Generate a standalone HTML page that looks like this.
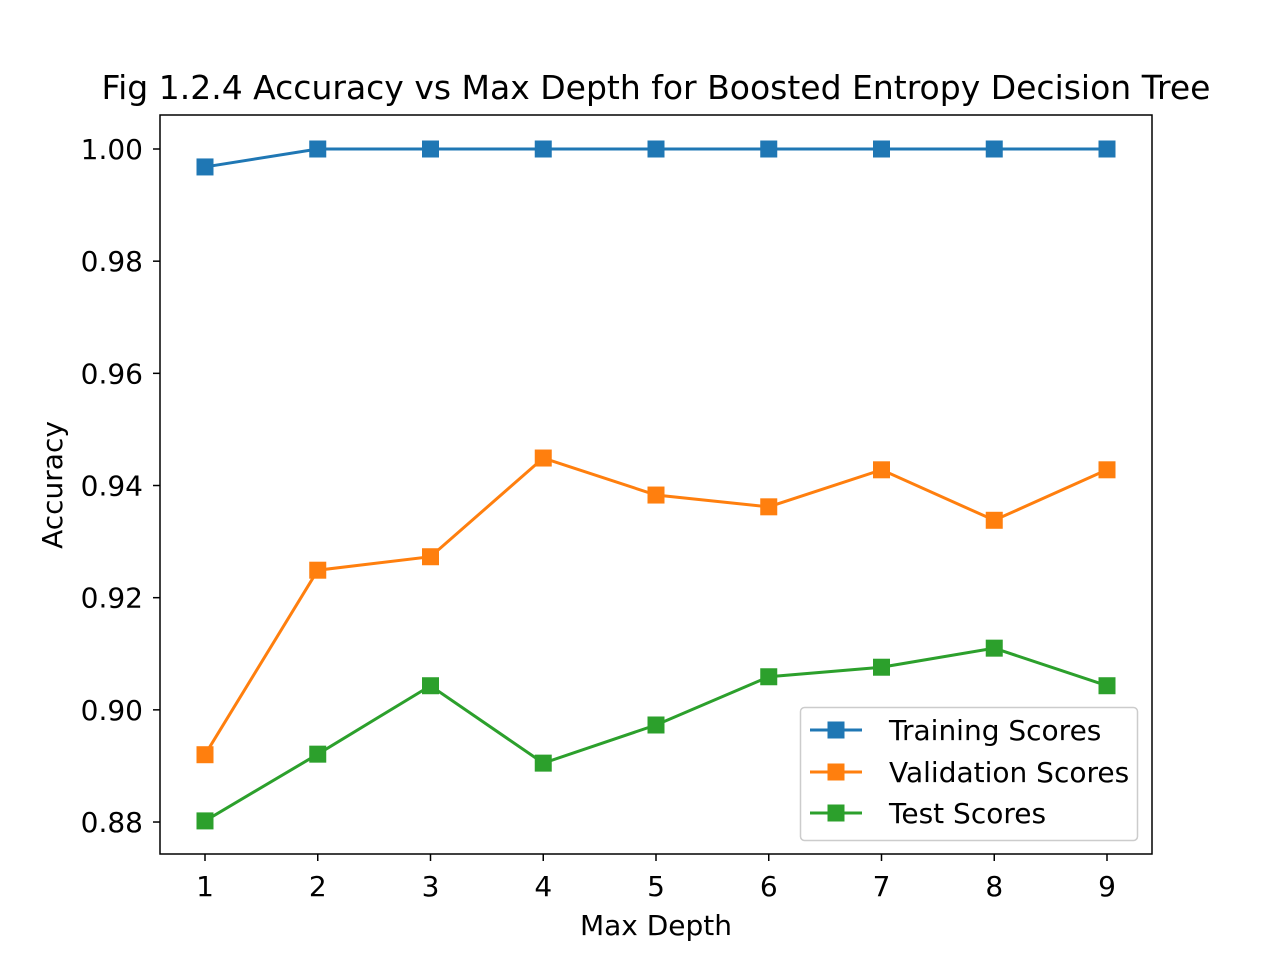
<!DOCTYPE html>
<html><head><meta charset="utf-8"><style>
html,body{margin:0;padding:0;background:#fff;}
svg{display:block;font-family:"DejaVu Sans","Liberation Sans",sans-serif;}
</style></head><body>
<svg id="chart" width="1280" height="960">
<rect width="1280" height="960" fill="#fff"/>
<text x="656" y="99" style="font-size:33px" text-anchor="middle">Fig 1.2.4 Accuracy vs Max Depth for Boosted Entropy Decision Tree</text>
<g id="axes"></g>
<g id="series"></g>
<rect x="160" y="115" width="992" height="739" fill="none" stroke="#000" stroke-width="1.5"/>
<text x="656" y="935" style="font-size:28px" text-anchor="middle">Max Depth</text>
<text transform="translate(62,485) rotate(-90)" style="font-size:28px" text-anchor="middle">Accuracy</text>
<g id="legend">
<rect x="800.5" y="707.5" width="337" height="133" rx="4" fill="#fff" fill-opacity="0.8" stroke="#ccc" stroke-width="1.5"/>
</g>
</svg>
<script>
const depths = [1,2,3,4,5,6,7,8,9];
const training = [0.9968,1,1,1,1,1,1,1,1];
const validation = [0.892,0.9249,0.9273,0.9449,0.9383,0.9362,0.9428,0.9338,0.9428];
const test = [0.8802,0.8921,0.9043,0.8905,0.8973,0.9059,0.9076,0.911,0.9043];
const xTicks = [1,2,3,4,5,6,7,8,9];
const yTicks = [0.88,0.90,0.92,0.94,0.96,0.98,1.00];
const yTickLabels = ["0.88","0.90","0.92","0.94","0.96","0.98","1.00"];
const seriesNames = ["Training Scores","Validation Scores","Test Scores"];

const NS="http://www.w3.org/2000/svg";
function xs(v){return 205+(v-1)*112.75;}
function ys(v){return 149+(1-v)/0.02*112.17;}
function mk(tag,attrs,parent){const e=document.createElementNS(NS,tag);for(const k in attrs)e.setAttribute(k,attrs[k]);parent.appendChild(e);return e;}
const axes=document.getElementById('axes');
xTicks.forEach((t,i)=>{
  const l=mk('line',{x1:xs(t),x2:xs(t),y1:854,y2:861,stroke:'#000','stroke-width':1.5},axes);
  
  
  const tx=mk('text',{x:xs(t),y:896,style:'font-size:28px','text-anchor':'middle'},axes);
  tx.textContent=String(t);
  
  
});
yTicks.forEach((t,i)=>{
  const l=mk('line',{x1:153,x2:160,y1:ys(t),y2:ys(t),stroke:'#000','stroke-width':1.5},axes);
  
  
  const tx=mk('text',{x:143,y:ys(t)+10,style:'font-size:28px','text-anchor':'end'},axes);
  tx.textContent=yTickLabels[i];
  
  
});
const colors=['#1f77b4','#ff7f0e','#2ca02c'];
const data=[training,validation,test];
const sg=document.getElementById('series');
data.forEach((vals,si)=>{
  const pts=vals.map((v,i)=>xs(depths[i])+','+ys(v)).join(' ');
  const pl=mk('polyline',{points:pts,fill:'none',stroke:colors[si],'stroke-width':3},sg);
  
  
  vals.forEach((v,i)=>{
    const r=mk('rect',{x:xs(depths[i])-8.5,y:ys(v)-8.5,width:17,height:17,fill:colors[si]},sg);
    
    
  });
});
const lg=document.getElementById('legend');
[730,772,813].forEach((y,si)=>{
  const l=mk('line',{x1:810,x2:862,y1:y,y2:y,stroke:colors[si],'stroke-width':3},lg);
  
  
  const r=mk('rect',{x:827.5,y:y-8.5,width:17,height:17,fill:colors[si]},lg);
  
  
  const t=mk('text',{x:889,y:y+10,style:'font-size:28px'},lg);
  t.textContent=seriesNames[si];
  
  
});
</script>
</body></html>
